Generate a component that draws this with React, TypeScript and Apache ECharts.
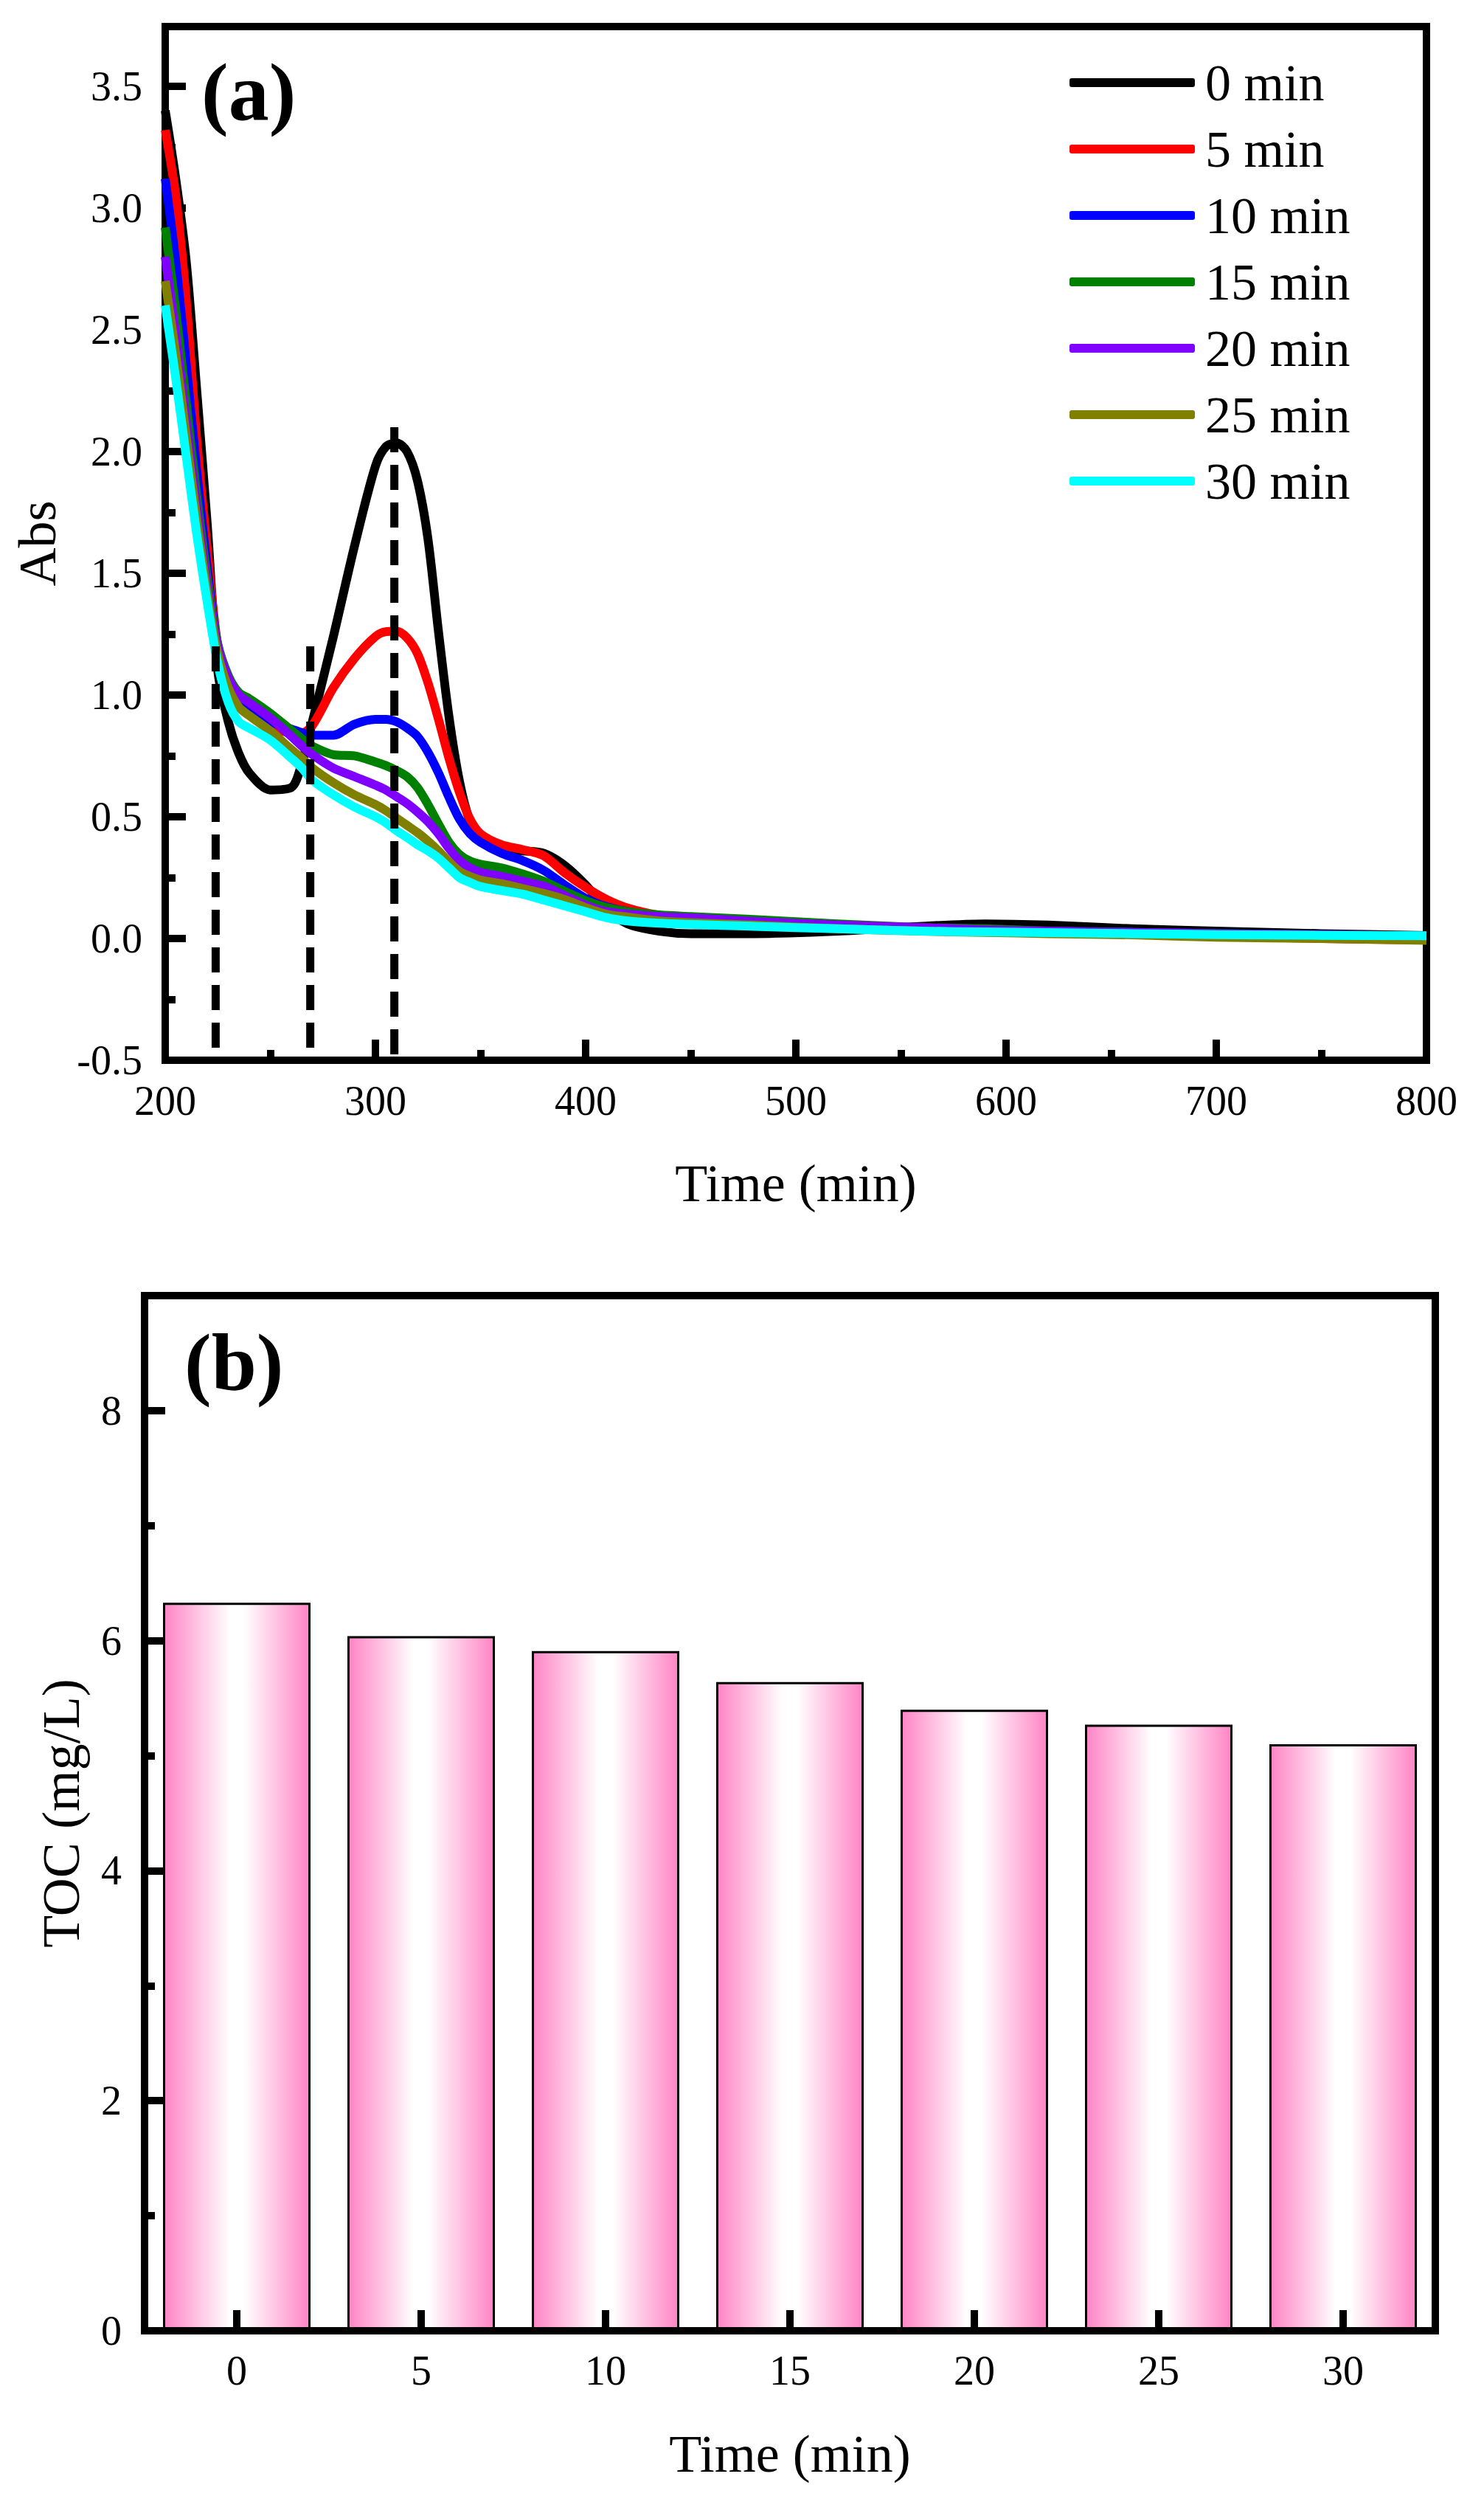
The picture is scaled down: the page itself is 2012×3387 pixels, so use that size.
import React, { useEffect, useRef } from 'react';
import * as echarts from 'echarts';

const FONT = 'Liberation Serif';

// ---------- Panel (a) data ----------
const wavelengths = [200, 205, 210, 215, 220, 225, 230, 235, 240, 250, 260, 265, 270, 280, 290, 300, 305, 310, 315, 320, 325, 330, 335, 340, 345, 350, 360, 370, 380, 390, 400, 410, 420, 435, 450, 480, 520, 560, 590, 620, 660, 700, 750, 800];

const seriesNames = ['0 min', '5 min', '10 min', '15 min', '20 min', '25 min', '30 min'];
const seriesColors = ['#000000', '#FF0000', '#0000FF', '#008000', '#8000FF', '#808000', '#00FFFF'];

const abs0 = [3.40, 3.12, 2.78, 2.25, 1.70, 1.10, 0.89, 0.76, 0.68, 0.61, 0.62, 0.72, 0.89, 1.24, 1.61, 1.94, 2.02, 2.035, 2.00, 1.88, 1.64, 1.26, 0.91, 0.645, 0.48, 0.41, 0.37, 0.36, 0.35, 0.30, 0.22, 0.12, 0.06, 0.03, 0.02, 0.02, 0.03, 0.05, 0.06, 0.055, 0.04, 0.03, 0.02, 0.012];
const abs5 = [3.32, 3.05, 2.62, 2.05, 1.60, 1.20, 1.04, 0.96, 0.92, 0.87, 0.845, 0.845, 0.875, 1.03, 1.15, 1.24, 1.26, 1.262, 1.235, 1.17, 1.05, 0.90, 0.74, 0.60, 0.49, 0.43, 0.385, 0.365, 0.34, 0.27, 0.21, 0.16, 0.125, 0.095, 0.08, 0.065, 0.05, 0.04, 0.035, 0.03, 0.02, 0.01, 0.0, -0.006];
const abs10 = [3.12, 2.78, 2.36, 1.92, 1.52, 1.20, 1.05, 0.975, 0.935, 0.89, 0.86, 0.845, 0.835, 0.835, 0.88, 0.90, 0.90, 0.89, 0.865, 0.83, 0.765, 0.68, 0.58, 0.49, 0.43, 0.395, 0.35, 0.32, 0.28, 0.22, 0.165, 0.13, 0.11, 0.09, 0.08, 0.065, 0.05, 0.04, 0.035, 0.03, 0.025, 0.02, 0.015, 0.01];
const abs15 = [2.92, 2.58, 2.20, 1.82, 1.48, 1.21, 1.08, 1.01, 0.985, 0.925, 0.855, 0.82, 0.79, 0.755, 0.75, 0.725, 0.71, 0.69, 0.665, 0.62, 0.55, 0.47, 0.395, 0.345, 0.318, 0.305, 0.29, 0.265, 0.235, 0.194, 0.155, 0.127, 0.11, 0.097, 0.09, 0.078, 0.06, 0.045, 0.04, 0.03, 0.025, 0.02, 0.015, 0.01];
const abs20 = [2.80, 2.48, 2.12, 1.77, 1.45, 1.20, 1.07, 1.0, 0.968, 0.905, 0.83, 0.79, 0.755, 0.70, 0.665, 0.63, 0.61, 0.583, 0.555, 0.52, 0.48, 0.43, 0.37, 0.32, 0.29, 0.272, 0.255, 0.235, 0.215, 0.176, 0.137, 0.11, 0.10, 0.09, 0.085, 0.07, 0.055, 0.045, 0.035, 0.03, 0.025, 0.02, 0.015, 0.01];
const abs25 = [2.70, 2.40, 2.06, 1.72, 1.42, 1.17, 1.03, 0.95, 0.915, 0.852, 0.776, 0.74, 0.70, 0.64, 0.59, 0.55, 0.525, 0.495, 0.465, 0.435, 0.40, 0.36, 0.315, 0.275, 0.255, 0.24, 0.225, 0.205, 0.185, 0.16, 0.127, 0.10, 0.088, 0.072, 0.065, 0.055, 0.04, 0.03, 0.025, 0.02, 0.015, 0.005, 0.0, -0.008];
const abs30 = [2.60, 2.30, 1.98, 1.66, 1.38, 1.13, 0.97, 0.89, 0.864, 0.815, 0.74, 0.70, 0.65, 0.59, 0.54, 0.50, 0.475, 0.443, 0.415, 0.385, 0.36, 0.33, 0.29, 0.25, 0.23, 0.213, 0.197, 0.182, 0.158, 0.134, 0.11, 0.085, 0.072, 0.063, 0.058, 0.05, 0.04, 0.03, 0.027, 0.024, 0.02, 0.016, 0.013, 0.011];
const absSeries = [abs0, abs5, abs10, abs15, abs20, abs25, abs30];

const dashedX = [224, 269, 309];
const dashedTop = [1.2, 1.2, 2.1];
const dashedBottom = -0.5;

// ---------- Panel (b) data ----------
const tocTimes = ['0', '5', '10', '15', '20', '25', '30'];
const tocValues = [6.33, 6.04, 5.91, 5.64, 5.40, 5.27, 5.10];

const BLACK = '#000';
const axisLineStyle = { color: BLACK, width: 10 };
const tickStyle = { color: BLACK, width: 10 };
const labelStyle = { fontSize: 56, color: BLACK, fontFamily: FONT };
const nameStyle = { fontSize: 72, color: BLACK, fontFamily: FONT };

function buildOption() {
  const lineSeries = absSeries.map((arr, i) => ({
    name: seriesNames[i],
    type: 'line',
    xAxisIndex: 0,
    yAxisIndex: 0,
    data: wavelengths.map((w, j) => [w, arr[j]]),
    smooth: 0.3,
    showSymbol: false,
    symbol: 'none',
    lineStyle: { color: seriesColors[i], width: 12, join: 'round' },
    itemStyle: { color: seriesColors[i] },
    z: 2,
  }));

  const dashSeries = dashedX.map((x, i) => ({
    name: 'dash' + i,
    type: 'line',
    xAxisIndex: 0,
    yAxisIndex: 0,
    data: [[x, dashedTop[i]], [x, dashedBottom]],
    showSymbol: false,
    symbol: 'none',
    silent: true,
    lineStyle: { color: BLACK, width: 11, type: [34, 17], cap: 'butt' },
    itemStyle: { color: BLACK },
    z: 3,
  }));

  const barGradient = new echarts.graphic.LinearGradient(0, 0, 1, 0, [
    { offset: 0, color: '#FF84C5' },
    { offset: 0.45, color: '#FFFFFF' },
    { offset: 0.55, color: '#FFFFFF' },
    { offset: 1, color: '#FF84C5' },
  ]);

  return {
    animation: false,
    backgroundColor: '#ffffff',
    textStyle: { fontFamily: FONT, color: BLACK },
    grid: [
      { left: 224, top: 36, width: 1710, height: 1401, show: true, borderColor: BLACK, borderWidth: 10, backgroundColor: 'transparent' },
      { left: 196, top: 1756, width: 1750, height: 1403, show: true, borderColor: BLACK, borderWidth: 10, backgroundColor: 'transparent' },
    ],
    legend: {
      orient: 'vertical',
      left: 1445,
      top: 72,
      itemWidth: 170,
      itemHeight: 12,
      itemGap: 20,
      icon: 'roundRect',
      selectedMode: false,
      data: seriesNames,
      textStyle: { fontSize: 70, lineHeight: 70, color: BLACK, fontFamily: FONT, padding: [0, 0, 0, 9] },
    },
    xAxis: [
      {
        type: 'value', gridIndex: 0, min: 200, max: 800, interval: 100, position: 'bottom',
        axisLine: { show: true, onZero: false, lineStyle: axisLineStyle },
        axisTick: { show: true, inside: true, length: 28, lineStyle: tickStyle },
        minorTick: { show: true, splitNumber: 2, length: 14, lineStyle: tickStyle },
        splitLine: { show: false },
        minorSplitLine: { show: false },
        axisLabel: { ...labelStyle, margin: 27 },
        name: 'Time (min)', nameLocation: 'middle', nameGap: 131, nameTextStyle: nameStyle,
      },
      {
        type: 'category', gridIndex: 1, data: tocTimes, boundaryGap: true, position: 'bottom',
        axisLine: { show: true, onZero: false, lineStyle: axisLineStyle },
        axisTick: { show: true, alignWithLabel: true, inside: true, length: 28, lineStyle: tickStyle },
        splitLine: { show: false },
        axisLabel: { ...labelStyle, margin: 26 },
        name: 'Time (min)', nameLocation: 'middle', nameGap: 131, nameTextStyle: nameStyle,
        z: 10,
      },
    ],
    yAxis: [
      {
        type: 'value', gridIndex: 0, min: -0.5, max: 3.745, interval: 0.5, position: 'left',
        axisLine: { show: true, onZero: false, lineStyle: axisLineStyle },
        axisTick: { show: true, inside: true, length: 28, lineStyle: tickStyle },
        splitLine: { show: false },
        axisLabel: { ...labelStyle, margin: 31, showMaxLabel: false, formatter: (v: number) => v.toFixed(1) },
        name: 'Abs', nameLocation: 'middle', nameGap: 137, nameTextStyle: nameStyle,
      },
      {
        type: 'value', gridIndex: 0, min: -0.5, max: 3.745, interval: 0.25, position: 'left',
        axisLine: { show: false },
        axisTick: { show: true, inside: true, length: 14, lineStyle: tickStyle },
        splitLine: { show: false },
        axisLabel: { show: false },
      },
      {
        type: 'value', gridIndex: 1, min: 0, max: 9, interval: 2, position: 'left',
        axisLine: { show: true, onZero: false, lineStyle: axisLineStyle },
        axisTick: { show: true, inside: true, length: 28, lineStyle: tickStyle },
        splitLine: { show: false },
        axisLabel: { ...labelStyle, margin: 31, showMaxLabel: false },
        name: 'TOC (mg/L)', nameLocation: 'middle', nameGap: 77, nameTextStyle: nameStyle,
        z: 10,
      },
      {
        type: 'value', gridIndex: 1, min: 0, max: 9, interval: 1, position: 'left',
        axisLine: { show: false },
        axisTick: { show: true, inside: true, length: 14, lineStyle: tickStyle },
        splitLine: { show: false },
        axisLabel: { show: false },
        z: 10,
      },
    ],
    graphic: [
      { type: 'text', x: 273, y: 125, style: { text: '(a)', font: `bold 110px ${FONT}`, fill: BLACK, align: 'left', verticalAlign: 'middle' } },
      { type: 'text', x: 250, y: 1847, style: { text: '(b)', font: `bold 110px ${FONT}`, fill: BLACK, align: 'left', verticalAlign: 'middle' } },
    ],
    series: [
      ...lineSeries,
      ...dashSeries,
      {
        name: 'TOC',
        type: 'bar',
        xAxisIndex: 1,
        yAxisIndex: 2,
        data: tocValues,
        barWidth: '80%',
        itemStyle: { color: barGradient, borderColor: BLACK, borderWidth: 3 },
        z: 2,
      },
    ],
  };
}

export default function App() {
  const ref = useRef<HTMLDivElement>(null);
  useEffect(() => {
    if (!ref.current) return;
    const chart = echarts.init(ref.current, null, { renderer: 'svg' });
    chart.setOption(buildOption() as any);
    return () => chart.dispose();
  }, []);
  return (
    <div
      ref={ref}
      style={{ position: 'absolute', left: 0, top: 0, width: 2012, height: 3387, background: '#fff' }}
    />
  );
}
